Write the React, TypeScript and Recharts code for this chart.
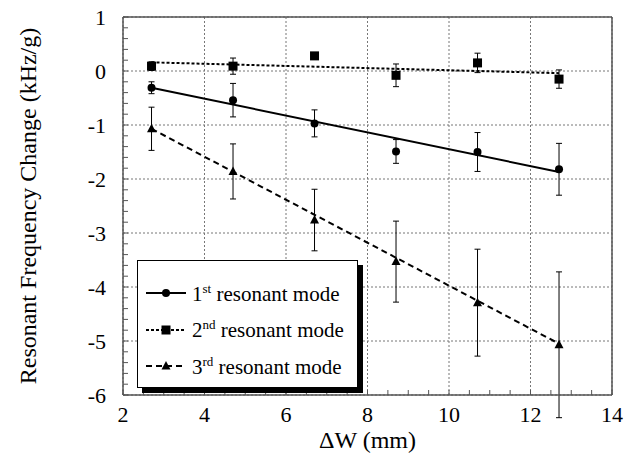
import React from "react";
import {
  ComposedChart,
  XAxis,
  YAxis,
  CartesianGrid,
  Line,
  Scatter,
  ErrorBar,
  Legend,
} from "recharts";

// measured positions along ΔW (mm)
const dw = [2.7, 4.7, 6.7, 8.7, 10.7, 12.7];

const mode1 = [-0.31, -0.54, -0.97, -1.49, -1.5, -1.82];
const mode1Err = [0.11, 0.31, 0.25, 0.22, 0.36, 0.48];
const mode2 = [0.09, 0.09, 0.28, -0.08, 0.15, -0.15];
const mode2Err = [0.08, 0.15, 0.05, 0.21, 0.18, 0.17];
const mode3 = [-1.07, -1.86, -2.76, -3.53, -4.29, -5.07];
const mode3Err = [0.4, 0.51, 0.57, 0.75, 0.99, 1.35];

// linear fits (end points)
const fitX = [2.7, 12.7];
const fit1 = [-0.31, -1.87];
const fit2 = [0.16, -0.04];
const fit3 = [-1.07, -5.05];

const xTicks = [2, 4, 6, 8, 10, 12, 14];
const yTicks = [1, 0, -1, -2, -3, -4, -5, -6];
const xMinor = [2, 2.5, 3, 3.5, 4, 4.5, 5, 5.5, 6, 6.5, 7, 7.5, 8, 8.5, 9, 9.5, 10, 10.5, 11, 11.5, 12, 12.5, 13, 13.5, 14];
const yMinor = [
  1, 0.8, 0.6, 0.4, 0.2, 0, -0.2, -0.4, -0.6, -0.8, -1, -1.2, -1.4, -1.6, -1.8, -2, -2.2, -2.4, -2.6, -2.8,
  -3, -3.2, -3.4, -3.6, -3.8, -4, -4.2, -4.4, -4.6, -4.8, -5, -5.2, -5.4, -5.6, -5.8, -6,
];

const points = (ys: number[], errs: number[]) => dw.map((x, i) => ({ x, y: ys[i], err: errs[i] }));
const fit = (ys: number[]) => fitX.map((x, i) => ({ x, y: ys[i] }));

const FONT = "Liberation Serif, Tinos, DejaVu Serif, Times New Roman, serif";
const FRAME = "#555";

const legendRows = [
  { n: "1", sup: "st", dash: undefined, marker: "circle" },
  { n: "2", sup: "nd", dash: "3 2", marker: "square" },
  { n: "3", sup: "rd", dash: "6 4", marker: "triangle" },
];

const Marker = ({ kind, cx, cy }: { kind: string; cx: number; cy: number }) => {
  if (kind === "circle") return <circle cx={cx} cy={cy} r={4} fill="#000" />;
  if (kind === "square") return <rect x={cx - 4.5} y={cy - 4.5} width={9} height={9} fill="#000" />;
  return <polygon points={`${cx},${cy - 5} ${cx - 4.5},${cy + 3.5} ${cx + 4.5},${cy + 3.5}`} fill="#000" />;
};

const LegendBox = () => (
  <div
    style={{
      width: 221,
      height: 128,
      boxSizing: "border-box",
      border: "1px solid #000",
      boxShadow: "5px 5px 0 #000",
      background: "#fff",
      paddingTop: 14,
      fontFamily: FONT,
      fontSize: 21,
      color: "#000",
    }}
  >
    {legendRows.map((r) => (
      <div key={r.n} style={{ display: "flex", alignItems: "center", height: 36.5 }}>
        <svg width={48} height={20} style={{ marginLeft: 6 }}>
          <line x1={2} y1={10} x2={42} y2={10} stroke="#000" strokeWidth={2} strokeDasharray={r.dash} />
          <Marker kind={r.marker} cx={22} cy={10} />
        </svg>
        <span style={{ whiteSpace: "nowrap", lineHeight: 1 }}>
          {r.n}
          <sup style={{ fontSize: 13 }}>{r.sup}</sup> resonant mode
        </span>
      </div>
    ))}
  </div>
);

const shapeOf = (kind: string) => (p: any) => <Marker kind={kind} cx={p.cx} cy={p.cy} />;

export default function App() {
  const tickStyle = { fontFamily: FONT, fontSize: 22, fill: "#000" };
  const xLabel = (v: number) => (xTicks.includes(v) ? String(v) : "");
  const yLabel = (v: number) => (yTicks.includes(v) ? String(v) : "");
  return (
    <div style={{ position: "absolute", left: 0, top: 0, width: 643, height: 470, background: "#fff", fontFamily: FONT }}>
      <ComposedChart width={643} height={470} margin={{ top: 17, right: 31, bottom: 0, left: 0 }}>
        <CartesianGrid stroke="#777" strokeDasharray="2 2" strokeWidth={1} verticalValues={xTicks} horizontalValues={yTicks} />
        <XAxis
          xAxisId={0}
          dataKey="x"
          type="number"
          domain={[2, 14]}
          allowDataOverflow
          ticks={xMinor}
          interval={0}
          tick={tickStyle}
          tickFormatter={xLabel}
          tickLine={{ stroke: FRAME }}
          axisLine={{ stroke: FRAME, strokeWidth: 1.5 }}
          tickSize={-5}
          tickMargin={16}
          height={75}
          label={{ value: "ΔW (mm)", position: "insideBottom", offset: 22, style: { fontFamily: FONT, fontSize: 24, fill: "#000" } }}
        />
        <XAxis
          xAxisId="top"
          dataKey="x"
          type="number"
          orientation="top"
          mirror
          domain={[2, 14]}
          allowDataOverflow
          ticks={xMinor}
          interval={0}
          tick={false}
          tickSize={5}
          tickLine={{ stroke: FRAME }}
          axisLine={{ stroke: FRAME, strokeWidth: 1.5 }}
        />
        <YAxis
          yAxisId={0}
          type="number"
          domain={[-6, 1]}
          allowDataOverflow
          ticks={yMinor}
          interval={0}
          tick={tickStyle}
          tickFormatter={yLabel}
          tickLine={{ stroke: FRAME }}
          axisLine={{ stroke: FRAME, strokeWidth: 1.5 }}
          tickSize={-5}
          tickMargin={22}
          width={123}
          label={{
            value: "Resonant Frequency Change (kHz/g)",
            content: ({ viewBox }: any) => (
              <text
                x={28}
                y={viewBox.y + viewBox.height / 2}
                transform={`rotate(-90, 28, ${viewBox.y + viewBox.height / 2})`}
                textAnchor="middle"
                dominantBaseline="central"
                style={{ fontFamily: FONT, fontSize: 24, fill: "#000" }}
              >
                Resonant Frequency Change (kHz/g)
              </text>
            ),
          }}
        />
        <YAxis
          yAxisId="right"
          type="number"
          orientation="right"
          mirror
          domain={[-6, 1]}
          allowDataOverflow
          ticks={yMinor}
          interval={0}
          tick={false}
          tickSize={5}
          tickLine={{ stroke: FRAME }}
          axisLine={{ stroke: FRAME, strokeWidth: 1.5 }}
        />

        {/* fitted lines live on the top/right axes (same domains) */}
        <Line xAxisId="top" yAxisId="right" data={fit(fit1)} dataKey="y" stroke="#000" strokeWidth={2} dot={false} isAnimationActive={false} legendType="none" />
        <Line xAxisId="top" yAxisId="right" data={fit(fit2)} dataKey="y" stroke="#000" strokeWidth={2} strokeDasharray="3 2" dot={false} isAnimationActive={false} legendType="none" />
        <Line xAxisId="top" yAxisId="right" data={fit(fit3)} dataKey="y" stroke="#000" strokeWidth={2} strokeDasharray="6 4" dot={false} isAnimationActive={false} legendType="none" />

        <Scatter data={points(mode1, mode1Err)} dataKey="y" shape={shapeOf("circle")} isAnimationActive={false}>
          <ErrorBar dataKey="err" direction="y" width={3} stroke="#000" strokeWidth={1} />
        </Scatter>
        <Scatter data={points(mode2, mode2Err)} dataKey="y" shape={shapeOf("square")} isAnimationActive={false}>
          <ErrorBar dataKey="err" direction="y" width={3} stroke="#000" strokeWidth={1} />
        </Scatter>
        <Scatter data={points(mode3, mode3Err)} dataKey="y" shape={shapeOf("triangle")} isAnimationActive={false}>
          <ErrorBar dataKey="err" direction="y" width={3} stroke="#000" strokeWidth={1} />
        </Scatter>

        <Legend
          layout="horizontal"
          align="center"
          verticalAlign="middle"
          content={() => <LegendBox />}
          wrapperStyle={{ left: 137, top: 260, width: 221, height: 128 }}
        />
      </ComposedChart>
    </div>
  );
}
